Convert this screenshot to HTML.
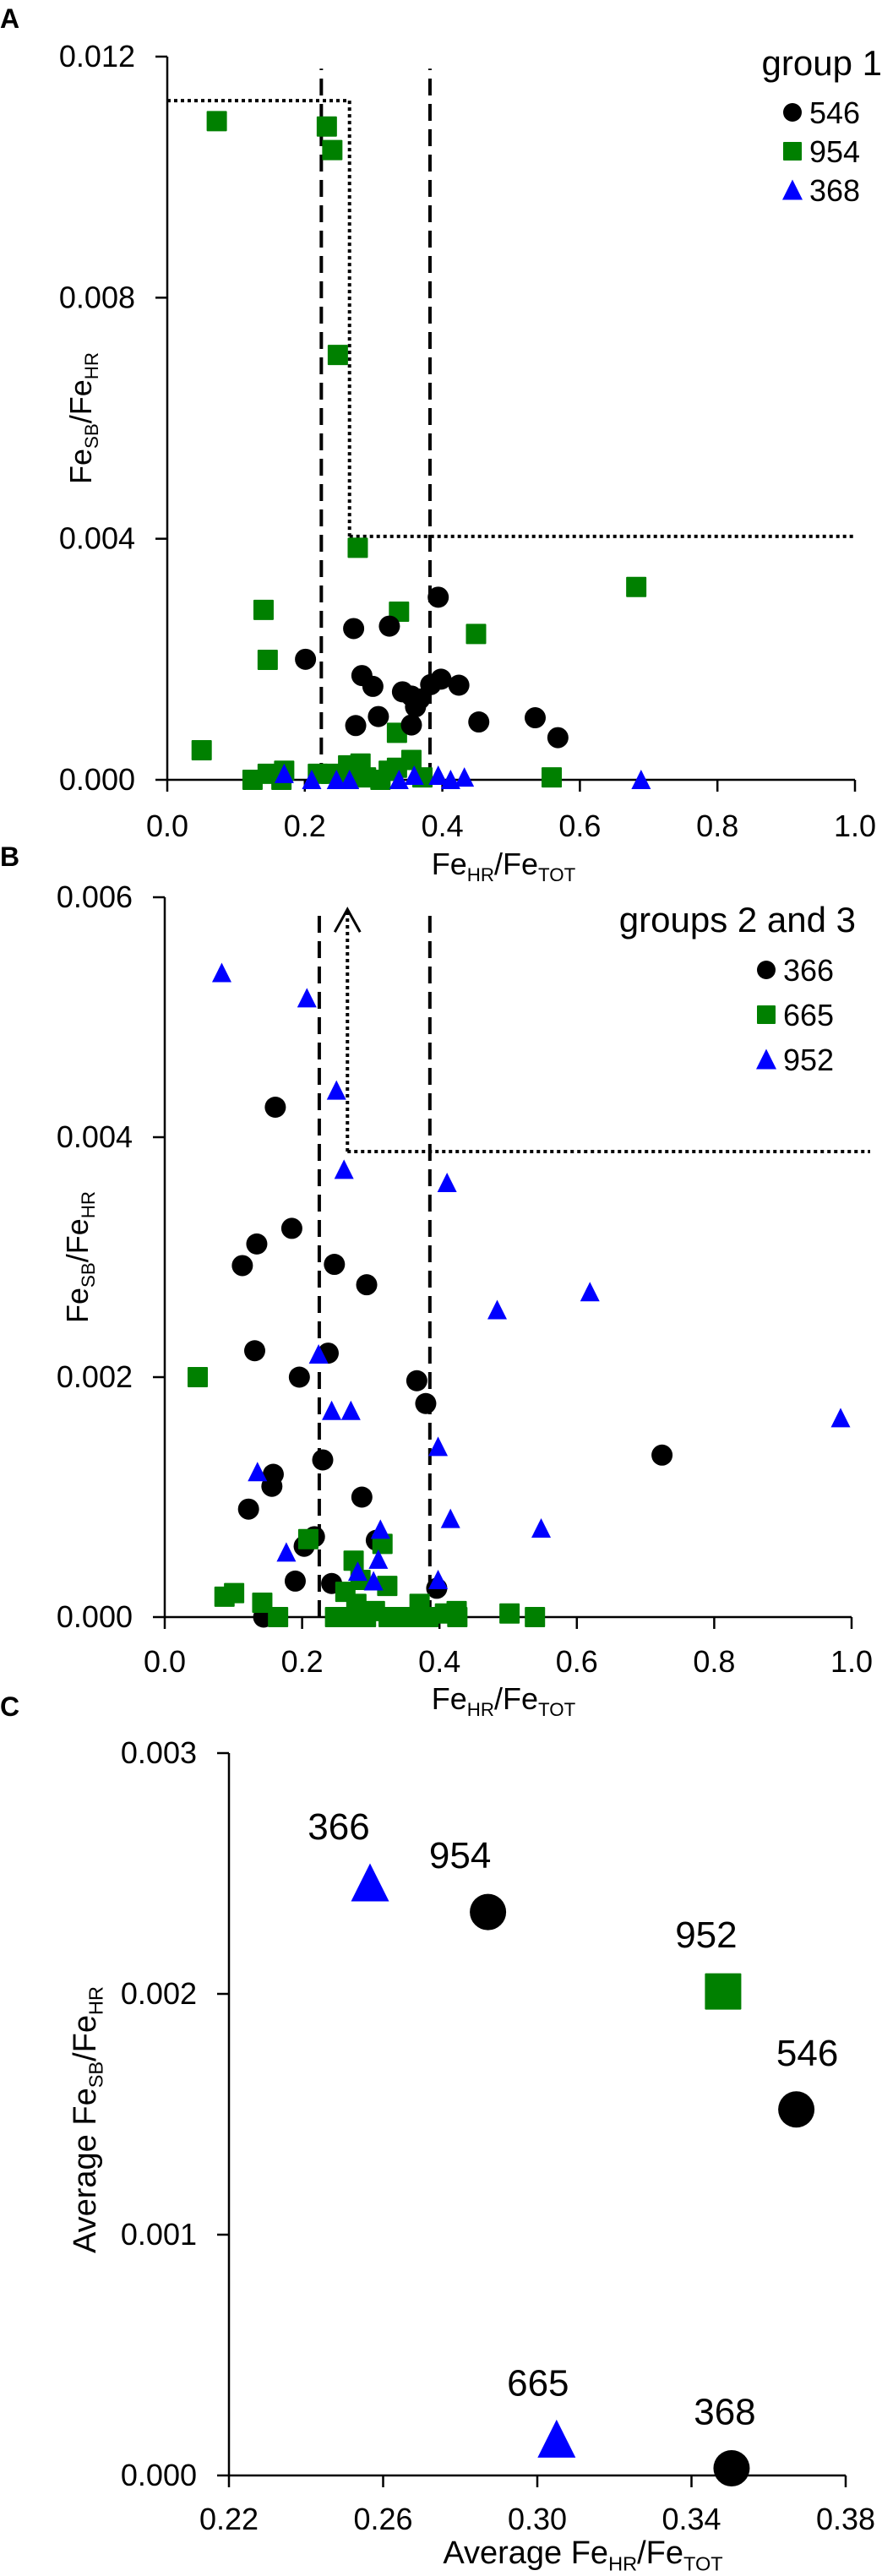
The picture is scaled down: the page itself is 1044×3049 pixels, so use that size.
<!DOCTYPE html>
<html><head><meta charset="utf-8"><style>
html,body{margin:0;padding:0;background:#fff;}
svg{display:block;font-family:"Liberation Sans",sans-serif;}
</style></head><body>
<svg id="fig" width="1044" height="3049" viewBox="0 0 1044 3049" xmlns="http://www.w3.org/2000/svg">
<text x="0" y="33" font-size="32" font-weight="bold">A</text>
<text x="0" y="1025" font-size="32" font-weight="bold">B</text>
<text x="0" y="2031" font-size="32" font-weight="bold">C</text>
</svg>
<script>
const NS="http://www.w3.org/2000/svg";
const svg=document.getElementById('fig');
// ---------- Panel A data ----------
const aX546=[0.394,0.271,0.323,0.201,0.283,0.299,0.342,0.355,0.367,0.361,0.383,0.398,0.424,0.453,0.535,0.568,0.274,0.307,0.355];
const aY546=[0.00303,0.00251,0.00255,0.0020,0.00173,0.00155,0.00146,0.00139,0.00134,0.00121,0.00158,0.00167,0.00157,0.00096,0.00103,0.0007,0.0009,0.00105,0.00091];
const aX954=[0.072,0.232,0.240,0.248,0.277,0.140,0.146,0.337,0.449,0.682,0.050,0.334,0.559,0.124,0.146,0.170,0.166,0.219,0.238,0.263,0.281,0.289,0.310,0.322,0.334,0.355,0.371,0.265];
const aY954=[0.01093,0.01084,0.01045,0.00705,0.00385,0.00282,0.00199,0.00279,0.00242,0.0032,0.00049,0.00078,0.00004,0,0.0001,0.00015,0,0.0001,0.0001,0.00024,0.00027,0.00004,0,0.00015,0.0002,0.00033,0.00004,0.00004];
const aX368=[0.170,0.210,0.246,0.265,0.337,0.359,0.394,0.412,0.432,0.689];
const aY368=[0.0001,0,0,0,0,0.00007,0.00007,0,0.00004,0];
const aYTicks=["0.000","0.004","0.008","0.012"];
const aXTicks=["0.0","0.2","0.4","0.6","0.8","1.0"];
// ---------- Panel B data ----------
const bX366=[0.161,0.185,0.134,0.113,0.247,0.294,0.131,0.238,0.196,0.367,0.380,0.724,0.230,0.158,0.156,0.122,0.287,0.218,0.203,0.308,0.190,0.243,0.396,0.144];
const bY366=[0.00425,0.00324,0.00311,0.00293,0.00294,0.00277,0.00222,0.0022,0.0020,0.00197,0.00178,0.00135,0.00131,0.00119,0.00109,0.0009,0.0010,0.00067,0.00059,0.00064,0.0003,0.00028,0.00024,0];
const bX665=[0.048,0.209,0.317,0.275,0.087,0.101,0.142,0.165,0.263,0.285,0.324,0.279,0.371,0.248,0.269,0.293,0.306,0.326,0.343,0.359,0.384,0.408,0.425,0.426,0.502,0.539];
const bY665=[0.0020,0.00065,0.00061,0.00047,0.00017,0.0002,0.00012,0,0.00021,0.00031,0.00026,0.00011,0.00011,0,0,0,0.00005,0,0,0,0,0.00003,0.00005,0,0.00003,0];
const bX952=[0.083,0.207,0.250,0.261,0.411,0.484,0.619,0.224,0.243,0.271,0.398,0.984,0.135,0.416,0.548,0.177,0.314,0.311,0.281,0.304,0.398];
const bY952=[0.00537,0.00516,0.00439,0.00373,0.00362,0.00256,0.00271,0.00219,0.00172,0.00172,0.00142,0.00166,0.00121,0.00082,0.00074,0.00054,0.00073,0.00048,0.00038,0.0003,0.00031];
const bYTicks=["0.000","0.002","0.004","0.006"];
const bXTicks=["0.0","0.2","0.4","0.6","0.8","1.0"];
// ---------- Panel C data ----------
const cNames=["366","954","952","546","665","368"];
const cX=[0.2566,0.2872,0.3482,0.3672,0.305,0.3504];
const cY=[0.00246,0.00234,0.00201,0.00152,0.00015,0.00003];
const cShapes=["tri","circ","sq","circ","tri","circ"];
const cYTicks=["0.000","0.001","0.002","0.003"];
const cXTicks=["0.22","0.26","0.30","0.34","0.38"];
const cLabelDx=[-37,-33,-20,13,-22,-8];

function el(tag,attrs,parent){const e=document.createElementNS(NS,tag);for(const k in attrs)e.setAttribute(k,attrs[k]);(parent||svg).appendChild(e);return e;}
const COL={circ:"#000",sq:"#008000",tri:"#0000ff"};
function marker(shape,cx,cy,s,name){
  let m;
  if(shape==="circ") m=el('circle',{cx:cx,cy:cy,r:s/2,fill:COL.circ});
  else if(shape==="sq") m=el('rect',{x:cx-s/2,y:cy-s/2,width:s,height:s,fill:COL.sq,rx:1});
  else m=el('polygon',{points:`${cx-s/2},${cy+s*0.48} ${cx+s/2},${cy+s*0.48} ${cx},${cy-s*0.52}`,fill:COL.tri});
  
  
  return m;
}
function axes(p){
  const sx=v=>p.x0+(v-p.xmin)/(p.xmax-p.xmin)*(p.x1-p.x0);
  const sy=v=>p.y0-(v-p.ymin)/(p.ymax-p.ymin)*(p.y0-p.y1);
  const ax=el('line',{x1:p.x0,y1:p.y0,x2:p.x1,y2:p.y0,stroke:"#000","stroke-width":2.5});
  
  
  const ay=el('line',{x1:p.x0,y1:p.y0,x2:p.x0,y2:p.y1,stroke:"#000","stroke-width":2.5});
  
  
  p.yt.forEach(t=>{const y=sy(parseFloat(t));
    el('line',{x1:p.x0-14,y1:y,x2:p.x0,y2:y,stroke:"#000","stroke-width":2.5});
    const tx=el('text',{x:p.x0-38,y:y+12,"font-size":36,"text-anchor":"end",fill:"#000"});tx.textContent=t;
    
    
  });
  p.xt.forEach(t=>{const x=sx(parseFloat(t));
    el('line',{x1:x,y1:p.y0,x2:x,y2:p.y0+14,stroke:"#000","stroke-width":2.5});
    const tx=el('text',{x:x,y:p.y0+p.lab,"font-size":36,"text-anchor":"middle",fill:"#000"});tx.textContent=t;
    
    
  });
  return {sx,sy};
}
function feLabel(x,y,size,prefix,a,b,c,d,rot,name){
  const t=el('text',{x:x,y:y,"font-size":size,"text-anchor":"middle",fill:"#000",transform:rot?`rotate(-90 ${x} ${y})`:""});
  t.innerHTML=`${prefix}${a}<tspan font-size="${size*0.62}" dy="${size*0.22}">${b}</tspan><tspan dy="${-size*0.22}">/${c}</tspan><tspan font-size="${size*0.62}" dy="${size*0.22}">${d}</tspan>`;
  
  
}
function vline(sx,sy,v,y0v,y1v,dash,w,name){const l=el('line',{x1:sx(v),x2:sx(v),y1:sy(y0v),y2:sy(y1v),stroke:"#000","stroke-width":w,"stroke-dasharray":dash});return l;}
function hline(sx,sy,v,x0v,x1v,dash,w,name){const l=el('line',{x1:sx(x0v),x2:sx(x1v),y1:sy(v),y2:sy(v),stroke:"#000","stroke-width":w,"stroke-dasharray":dash});return l;}
function legend(title,tx,ty,mx,ys,names,shapes,id){
  const t=el('text',{x:tx,y:ty,"font-size":42,"text-anchor":"end",fill:"#000"});t.textContent=title;
  
  
  names.forEach((n,i)=>{marker(shapes[i],mx,ys[i],shapes[i]==="tri"?24:22,id+'-legend-marker-'+n);
    const l=el('text',{x:mx+20,y:ys[i]+13,"font-size":36,fill:"#000"});l.textContent=n;
    
    });
}
// Panel A
{
  const {sx,sy}=axes({id:"a",x0:198,x1:1012,y0:923,y1:67,lab:67,xmin:0,xmax:1,ymin:0,ymax:0.012,yt:aYTicks,xt:aXTicks});
  vline(sx,sy,0.224,0,0.0118,"20 10",4,"a-dashed-line-lower");
  vline(sx,sy,0.382,0,0.0118,"20 10",4,"a-dashed-line-upper");
  hline(sx,sy,0.01127,0,0.265,"4 4",4,"a-dotted-threshold-top");
  vline(sx,sy,0.265,0.01127,0.00404,"4 4",4,"a-dotted-threshold-vertical");
  hline(sx,sy,0.00404,0.265,1.0,"4 4",4,"a-dotted-threshold-right");
  aX954.forEach((x,i)=>marker("sq",sx(x),sy(aY954[i]),24,"a-point-954"));
  aX546.forEach((x,i)=>marker("circ",sx(x),sy(aY546[i]),25,"a-point-546"));
  aX368.forEach((x,i)=>marker("tri",sx(x),sy(aY368[i]),23,"a-point-368"));
  legend("group 1",1044,89,938,[133,179,225],["546","954","368"],["circ","sq","tri"],"a");
  feLabel(596,1035,36,"Fe","","HR","Fe","TOT",false,"a-x-axis-title");
  feLabel(108,495,36,"Fe","","SB","Fe","HR",true,"a-y-axis-title");
}
// Panel B
{
  const {sx,sy}=axes({id:"b",x0:195,x1:1008,y0:1914,y1:1062,lab:65,xmin:0,xmax:1,ymin:0,ymax:0.006,yt:bYTicks,xt:bXTicks});
  vline(sx,sy,0.225,0,0.0059,"20 10",4,"b-dashed-line-lower");
  vline(sx,sy,0.386,0,0.0059,"20 10",4,"b-dashed-line-upper");
  vline(sx,sy,0.266,0.00388,0.0059,"4 4",4,"b-dotted-threshold-vertical");
  hline(sx,sy,0.00388,0.266,1.027,"4 4",4,"b-dotted-threshold-right");
  const ar=el('polyline',{points:`${sx(0.266)-15},${sy(0.0059)+27} ${sx(0.266)},${sy(0.0059)} ${sx(0.266)+15},${sy(0.0059)+27}`,fill:"none",stroke:"#000","stroke-width":3});
  
  
  bX366.forEach((x,i)=>marker("circ",sx(x),sy(bY366[i]),25,"b-point-366"));
  bX665.forEach((x,i)=>marker("sq",sx(x),sy(bY665[i]),24,"b-point-665"));
  bX952.forEach((x,i)=>marker("tri",sx(x),sy(bY952[i]),23,"b-point-952"));
  legend("groups 2 and 3",1013,1103,907,[1148,1201,1254],["366","665","952"],["circ","sq","tri"],"b");
  feLabel(596,2023,36,"Fe","","HR","Fe","TOT",false,"b-x-axis-title");
  feLabel(104,1488,36,"Fe","","SB","Fe","HR",true,"b-y-axis-title");
}
// Panel C
{
  const {sx,sy}=axes({id:"c",x0:271,x1:1001,y0:2930,y1:2075,lab:64,xmin:0.22,xmax:0.38,ymin:0,ymax:0.003,yt:cYTicks,xt:cXTicks});
  cX.forEach((x,i)=>{
    const s=cShapes[i]==="tri"?45:43;
    marker(cShapes[i],sx(x),sy(cY[i]),s,"c-point-"+cNames[i]);
    const t=el('text',{x:sx(x)+cLabelDx[i],y:sy(cY[i])-52,"font-size":44,"text-anchor":"middle",fill:"#000"});
    t.textContent=cNames[i];
    
    
  });
  feLabel(690,3034,38,"Average Fe","","HR","Fe","TOT",false,"c-x-axis-title");
  feLabel(113,2509,38,"Average Fe","","SB","Fe","HR",true,"c-y-axis-title");
}
</script>
</body></html>
